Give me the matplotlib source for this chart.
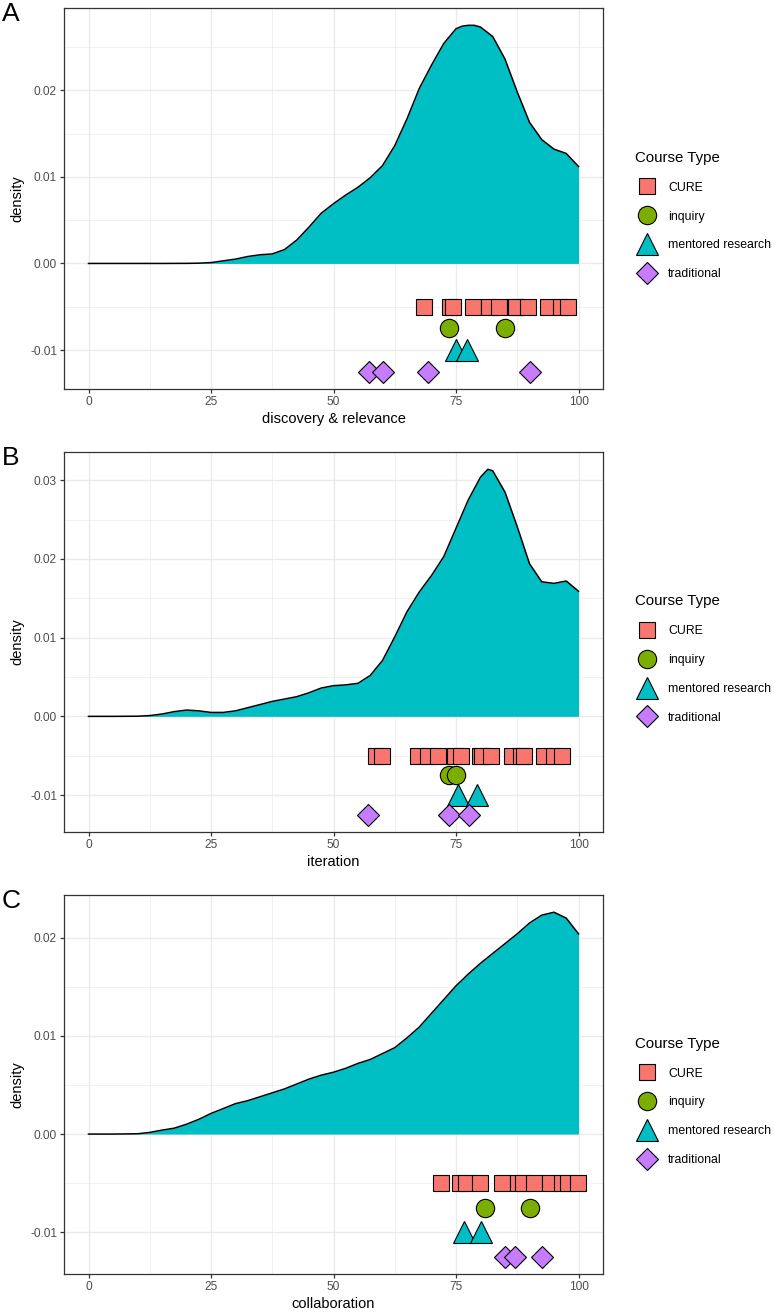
import matplotlib
matplotlib.use("Agg")
import matplotlib.pyplot as plt
from matplotlib.lines import Line2D
from matplotlib.ticker import MultipleLocator, FormatStrFormatter

plt.rcParams["font.family"] = ["Liberation Sans", "DejaVu Sans"]
plt.rcParams["axes.unicode_minus"] = False

# ---- data ----
panel_letters = ["A", "B", "C"]
x_titles = ["discovery & relevance", "iteration", "collaboration"]
course_types = ["CURE", "inquiry", "mentored research", "traditional"]

# density curves (x, density)
dens_x_A = [0, 5, 10, 15, 20, 22.5, 25, 27.5, 30, 32.5, 35, 37.5, 40, 42.5, 45, 47.5, 50, 52.5, 55, 57.5,
            60, 62.5, 65, 67.5, 70, 72.5, 75, 76.25, 77.5, 78.75, 80, 82.5, 85, 87.5, 90, 92.5, 95, 97.5, 100]
dens_y_A = [0, 0, 0, 0, 0.00001, 0.00003, 0.0001, 0.0003, 0.0005, 0.0008, 0.001, 0.0011, 0.0016, 0.0027,
            0.0042, 0.0058, 0.0069, 0.0079, 0.0088, 0.0099, 0.0113, 0.0136, 0.0167, 0.0202, 0.0229, 0.0254,
            0.0271, 0.0274, 0.0275, 0.0275, 0.0273, 0.0262, 0.0236, 0.0198, 0.0163, 0.0143, 0.0132, 0.0127, 0.0112]

dens_x_B = [0, 5, 10, 12.5, 15, 17.5, 20, 22.5, 25, 27.5, 30, 32.5, 35, 37.5, 40, 42.5, 45, 47.5, 50, 52.5,
            55, 57.5, 60, 62.5, 65, 67.5, 70, 72.5, 75, 77.5, 80, 81.5, 82.5, 85, 87.5, 90, 92.5, 95, 97.5, 100]
dens_y_B = [0, 0, 0.00002, 0.0001, 0.0003, 0.0006, 0.0008, 0.0007, 0.0005, 0.0005, 0.0007, 0.0011, 0.0015,
            0.0019, 0.0022, 0.0025, 0.003, 0.0036, 0.0039, 0.004, 0.0042, 0.0052, 0.0071, 0.0101, 0.0133,
            0.0158, 0.0179, 0.0203, 0.0239, 0.0275, 0.0304, 0.0314, 0.0312, 0.0285, 0.0241, 0.0194, 0.0171,
            0.0169, 0.0172, 0.0159]

dens_x_C = [0, 5, 10, 12.5, 15, 17.5, 20, 22.5, 25, 27.5, 30, 32.5, 35, 37.5, 40, 42.5, 45, 47.5, 50, 52.5,
            55, 57.5, 60, 62.5, 65, 67.5, 70, 72.5, 75, 77.5, 80, 82.5, 85, 87.5, 90, 92.5, 95, 97.5, 100]
dens_y_C = [0, 0, 0.00003, 0.00017, 0.0004, 0.0006, 0.001, 0.0015, 0.0021, 0.0026, 0.0031, 0.0034, 0.0038,
            0.0042, 0.0046, 0.0051, 0.0056, 0.006, 0.0063, 0.0067, 0.0072, 0.0076, 0.0082, 0.0088, 0.0098,
            0.0109, 0.0123, 0.0137, 0.0151, 0.0163, 0.0174, 0.0184, 0.0194, 0.0204, 0.0215, 0.0223, 0.0226,
            0.022, 0.0204]

# course scores per panel
cure_A = [68.4, 73.7, 74.3, 78.4, 81.7, 83.7, 87.1, 87.3, 89.6, 93.8, 96.4, 97.8]
inquiry_A = [73.5, 85.1]
mentored_A = [75.0, 77.3]
traditional_A = [57.3, 60.2, 69.2, 90.0]

cure_B = [58.6, 59.8, 67.2, 69.2, 71.3, 74.7, 76.0, 79.9, 80.3, 82.1, 86.5, 88.3, 88.8, 92.9, 95.0, 96.6]
inquiry_B = [73.5, 74.9]
mentored_B = [75.4, 79.2]
traditional_B = [57.0, 73.6, 77.6]

cure_C = [71.9, 75.8, 77.0, 79.9, 84.4, 87.6, 88.6, 91.0, 94.2, 96.6, 97.9, 99.9]
inquiry_C = [80.9, 90.0]
mentored_C = [76.6, 80.1]
traditional_C = [84.9, 87.1, 92.5]

# ---- styles ----
colors = ["#F8766D", "#7CAE00", "#00BFC4", "#C77CFF"]
markers = ["s", "o", "^", "D"]
msizes = [12.2, 13.2, 15.8, 11.4]
y_levels = [-0.005, -0.0075, -0.01, -0.0125]
fill_col = "#00BFC4"
grid_col = "#EBEBEB"
border_col = "#333333"
tick_col = "#4D4D4D"

panels = [
    (dens_x_A, dens_y_A, [cure_A, inquiry_A, mentored_A, traditional_A]),
    (dens_x_B, dens_y_B, [cure_B, inquiry_B, mentored_B, traditional_B]),
    (dens_x_C, dens_y_C, [cure_C, inquiry_C, mentored_C, traditional_C]),
]

W, H = 774, 1312
fig = plt.figure(figsize=(W / 100, H / 100), dpi=100)

# axes boxes in pixels: (left, top, right, bottom)
boxes = [(64, 8, 603, 389), (64, 452, 603, 832), (64, 895, 603, 1274)]

for i, (dx, dy, groups) in enumerate(panels):
    l, t, r, b = boxes[i]
    ax = fig.add_axes([l / W, 1 - b / H, (r - l) / W, (b - t) / H])

    ax.fill_between(dx, 0, dy, color=fill_col, lw=0, zorder=2)
    ax.plot(dx, dy, color="black", lw=1.1, zorder=3, solid_joinstyle="round")

    for k, vals in enumerate(groups):
        ax.plot(vals, [y_levels[k]] * len(vals), ls="none", marker=markers[k], ms=msizes[k],
                mfc=colors[k], mec="black", mew=0.8, zorder=4)

    ymin = min(y_levels)
    ymax = max(dy)
    pad = 0.05 * (ymax - ymin)
    ax.set_ylim(ymin - pad, ymax + pad)
    ax.set_xlim(-5, 105)

    ax.xaxis.set_major_locator(MultipleLocator(25))
    ax.xaxis.set_minor_locator(MultipleLocator(12.5))
    ax.yaxis.set_major_locator(MultipleLocator(0.01))
    ax.yaxis.set_minor_locator(MultipleLocator(0.005))
    ax.yaxis.set_major_formatter(FormatStrFormatter("%.2f"))

    ax.grid(True, which="major", color=grid_col, lw=1.0, zorder=0)
    ax.grid(True, which="minor", color=grid_col, lw=0.5, zorder=0)
    ax.set_axisbelow(True)

    for s in ax.spines.values():
        s.set_color(border_col)
        s.set_linewidth(0.9)
    ax.tick_params(which="major", length=3, width=0.9, color=border_col, labelcolor=tick_col,
                   labelsize=8.6, pad=2)
    ax.tick_params(which="minor", length=0)

    ax.set_xlabel(x_titles[i], fontsize=10.5, color="black", labelpad=3)
    ax.set_ylabel("density", fontsize=10.5, color="black", labelpad=4)

    fig.text(2 / W, 1 - 2 / H if i == 0 else 1 - (t - 6) / H, panel_letters[i],
             fontsize=19, ha="left", va="top")

    handles = [Line2D([], [], ls="none", marker=markers[k], ms=msizes[k], mfc=colors[k],
                      mec="black", mew=0.8) for k in range(4)]
    leg = ax.legend(handles, course_types, title="Course Type", loc="center left",
                    bbox_to_anchor=(1.05, 0.455), frameon=False, fontsize=8.8,
                    title_fontsize=10.8, labelspacing=1.38, handlelength=2.05,
                    handletextpad=0.67, borderaxespad=0)
    leg._legend_box.align = "left"
    leg._legend_box.sep = 12

fig.savefig("out.png", dpi=100)
